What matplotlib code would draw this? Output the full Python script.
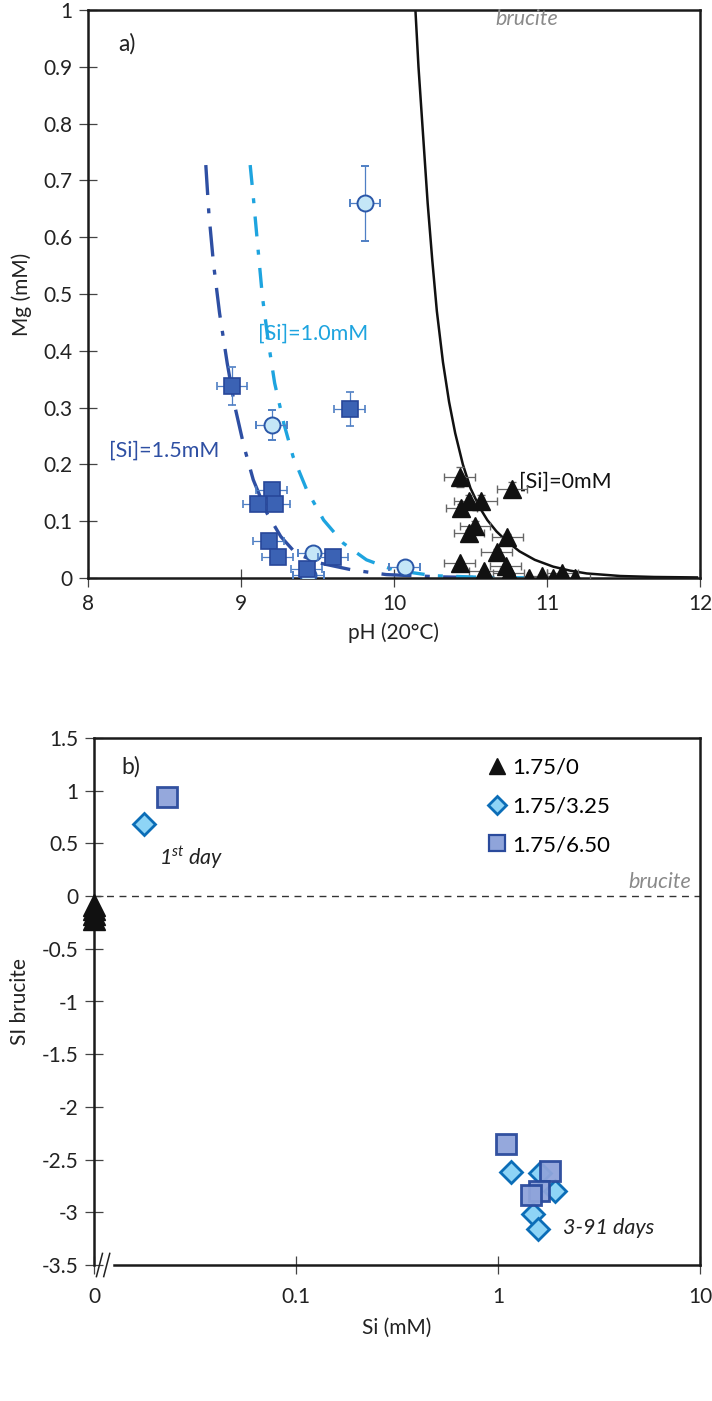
import numpy as np
import matplotlib
matplotlib.use("Agg")
import matplotlib.pyplot as plt
from matplotlib.lines import Line2D

plt.rcParams['font.family'] = ['Lato', 'DejaVu Sans']
plt.rcParams['mathtext.fontset'] = 'custom'
plt.rcParams['mathtext.it'] = 'Lato:italic'
plt.rcParams['mathtext.rm'] = 'Lato'

# ---------------- panel a: Mg vs pH ----------------
# [Si] = 0 mM experiments (triangles)
ph_si0 = [10.43, 10.77, 10.49, 10.57, 10.44, 10.53, 10.49, 10.74, 10.67, 10.43,
          10.59, 10.73, 10.75, 10.88, 10.97, 11.04, 11.10, 11.18]
mg_si0 = [0.178, 0.157, 0.136, 0.136, 0.123, 0.092, 0.079, 0.072, 0.046, 0.026,
          0.012, 0.021, 0.009, 0.000, 0.004, 0.000, 0.009, 0.000]
mg_si0_err = [0.018, 0.012, 0.010, 0.010, 0.008, 0.008, 0.006, 0.006, 0.005, 0.004,
              0.003, 0.003, 0.002, 0.002, 0.002, 0.002, 0.002, 0.002]

# [Si] = 1.0 mM experiments (circles)
ph_si10 = [9.81, 9.20, 9.47, 9.44, 10.07]
mg_si10 = [0.660, 0.269, 0.044, 0.005, 0.020]
mg_si10_err = [0.066, 0.026, 0.006, 0.003, 0.004]

# [Si] = 1.5 mM experiments (squares)
ph_si15 = [8.94, 9.71, 9.20, 9.11, 9.22, 9.18, 9.24, 9.43, 9.60]
mg_si15 = [0.338, 0.298, 0.155, 0.130, 0.130, 0.065, 0.037, 0.015, 0.037]
mg_si15_err = [0.033, 0.030, 0.012, 0.010, 0.010, 0.008, 0.006, 0.004, 0.006]

ph_err = 0.1

# brucite solubility curve, [Si]=0
ph_bru = [10.14, 10.16, 10.18, 10.20, 10.22, 10.25, 10.28, 10.32, 10.36, 10.40,
          10.45, 10.50, 10.56, 10.61, 10.67, 10.74, 10.82, 10.92, 11.04, 11.15,
          11.26, 11.48, 11.70, 11.98]
mg_bru = [1.00, 0.90, 0.82, 0.74, 0.66, 0.56, 0.47, 0.38, 0.31, 0.255,
          0.200, 0.158, 0.124, 0.102, 0.082, 0.064, 0.047, 0.032, 0.020, 0.013,
          0.008, 0.0035, 0.0018, 0.001]

# model curve [Si]=1.0 mM
ph_m10 = [9.06, 9.08, 9.11, 9.14, 9.18, 9.22, 9.28, 9.34, 9.43, 9.54, 9.67, 9.82,
          10.00, 10.26, 10.60, 11.00]
mg_m10 = [0.727, 0.672, 0.583, 0.495, 0.413, 0.343, 0.272, 0.214, 0.155, 0.102,
          0.061, 0.032, 0.014, 0.004, 0.001, 0.0]

# model curve [Si]=1.5 mM
ph_m15 = [8.77, 8.79, 8.82, 8.86, 8.91, 8.96, 9.02, 9.08, 9.17, 9.26, 9.36, 9.52,
          9.73, 9.95, 10.30, 10.74]
mg_m15 = [0.727, 0.642, 0.554, 0.466, 0.378, 0.302, 0.231, 0.173, 0.114, 0.073,
          0.043, 0.026, 0.014, 0.006, 0.002, 0.0]

# ---------------- panel b: SI brucite vs Si ----------------
si_t = [0.01, 0.01, 0.01, 0.01]          # no added Si, drawn on the axis break
sib_t = [-0.08, -0.12, -0.17, -0.22]

si_d = [0.0176, 1.16, 1.61, 1.91, 1.49, 1.58]
sib_d = [0.68, -2.62, -2.63, -2.80, -3.02, -3.155]

si_s = [0.0229, 1.10, 1.81, 1.60, 1.45]
sib_s = [0.94, -2.35, -2.61, -2.80, -2.84]

legend_labels = ['1.75/0', '1.75/3.25', '1.75/6.50']

DARK = '#2E4FA3'
SQ_FACE = '#3B62B4'
LIGHT = '#1EA4DF'
CIRC_FACE = '#C4E6F7'
GREY = '#8A8A8A'

fig = plt.figure(figsize=(7.12, 14.01), dpi=100)
W, H = 712.0, 1401.0
ax1 = fig.add_axes([88 / W, 1 - 578 / H, 612 / W, 568 / H])
ax2 = fig.add_axes([94 / W, 1 - 1265 / H, 606 / W, 527 / H])

for ax in (ax1, ax2):
    for sp in ax.spines.values():
        sp.set_linewidth(1.8)
        sp.set_color('#1a1a1a')
    ax.tick_params(direction='inout', length=13, width=0.9, color='#444444',
                   labelsize=15, pad=5, labelcolor='#222222')
ax2.tick_params(axis='x', pad=9)

# model curves
ax1.plot(ph_bru, mg_bru, color='#111111', lw=1.8, zorder=2)
ax1.plot(ph_m15, mg_m15, color=DARK, lw=2.4, dashes=(9, 4, 1.5, 4), zorder=2)
ax1.plot(ph_m10, mg_m10, color=LIGHT, lw=2.4, dashes=(6, 4, 1.5, 4), zorder=2)

# experiments
ax1.errorbar(ph_si10, mg_si10, xerr=ph_err, yerr=mg_si10_err, fmt='o', ms=11.5,
             mfc=CIRC_FACE, mec='#2B57A8', mew=1.4, ecolor='#4F7FC4', elinewidth=0.9,
             capsize=3, zorder=3)
ax1.errorbar(ph_si15, mg_si15, xerr=ph_err, yerr=mg_si15_err, fmt='s', ms=11.5,
             mfc=SQ_FACE, mec='#27479A', mew=1.2, ecolor='#4F7FC4', elinewidth=0.9,
             capsize=3, zorder=4)
ax1.errorbar(ph_si0, mg_si0, xerr=ph_err, yerr=mg_si0_err, fmt='^', ms=13,
             mfc='#111111', mec='#111111', ecolor='#666666', elinewidth=0.9,
             capsize=3, zorder=5)

ax1.set_xlim(8, 12)
ax1.set_ylim(0, 1)
ax1.set_xticks([8, 9, 10, 11, 12])
ax1.set_yticks(np.round(np.arange(0, 1.01, 0.1), 1))
ax1.set_yticklabels(['0', '0.1', '0.2', '0.3', '0.4', '0.5', '0.6', '0.7', '0.8', '0.9', '1'])
ax1.set_xlabel('pH (20°C)', fontsize=15, labelpad=6, color='#222222')
ax1.set_ylabel('Mg (mM)', fontsize=15, labelpad=8, color='#222222')

ax1.text(0.05, 0.94, 'a)', transform=ax1.transAxes, fontsize=16.5, color='#222222',
         va='center')
ax1.text(10.87, 0.985, 'brucite', fontsize=15.5, style='italic', color=GREY,
         ha='center', va='center')
ax1.text(10.82, 0.17, '[Si]=0mM', fontsize=15.5, color='#111111', va='center')
ax1.text(9.11, 0.43, '[Si]=1.0mM', fontsize=15.5, color=LIGHT, va='center')
ax1.text(8.14, 0.225, '[Si]=1.5mM', fontsize=15.5, color=DARK, va='center')

# panel b
ax2.set_xscale('log')
ax2.axhline(0, color='#333333', lw=1.0, dashes=(5, 4), zorder=1)
ax2.plot(si_t, sib_t, '^', ms=16, mfc='#111111', mec='#111111', clip_on=False, zorder=5)
ax2.plot(si_d, sib_d, 'D', ms=11.5, mfc='#8ED4F6', mec='#0B6DB7', mew=2.0, zorder=3)
ax2.plot(si_s, sib_s, 's', ms=14, mfc='#8FA4DA', mec='#2A4A9C', mew=2.0, alpha=0.95, zorder=4)

ax2.set_xlim(0.01, 10)
ax2.set_ylim(-3.5, 1.5)
ax2.set_xticks([0.01, 0.1, 1, 10])
ax2.set_xticklabels(['0', '0.1', '1', '10'])
ax2.xaxis.set_minor_locator(matplotlib.ticker.NullLocator())
yt = np.arange(-3.5, 1.51, 0.5)
ax2.set_yticks(yt)
ax2.set_yticklabels(['%g' % v for v in yt])
ax2.set_xlabel('Si (mM)', fontsize=15, labelpad=8, color='#222222')
ax2.set_ylabel('SI brucite', fontsize=15, labelpad=8, color='#222222')
ax2.spines['bottom'].set_bounds(0.0125, 10)

# axis break marks
for dx in (0.004, 0.016):
    ax2.add_line(Line2D([dx, dx + 0.010], [-0.022, 0.022], transform=ax2.transAxes,
                        color='#222222', lw=1.1, clip_on=False))

ax2.text(0.045, 0.945, 'b)', transform=ax2.transAxes, fontsize=16.5, color='#222222',
         va='center')
ax2.text(0.021, 0.36, r'1$^{st}$ day', fontsize=15.5, style='italic', color='#222222',
         va='center')
ax2.text(2.09, -3.15, '3-91 days', fontsize=15.5, style='italic', color='#222222',
         va='center')
ax2.text(0.985, 0.04, 'brucite', transform=ax2.get_yaxis_transform(), fontsize=15.5,
         style='italic', color=GREY, ha='right', va='bottom')

handles = [
    Line2D([], [], ls='none', marker='^', ms=12, mfc='#111111', mec='#111111'),
    Line2D([], [], ls='none', marker='D', ms=9, mfc='#8ED4F6', mec='#0B6DB7', mew=2.0),
    Line2D([], [], ls='none', marker='s', ms=11, mfc='#8FA4DA', mec='#2A4A9C', mew=1.6),
]
ax2.legend(handles, legend_labels, loc='upper left', bbox_to_anchor=(0.635, 0.98),
           frameon=False, fontsize=16, handlelength=0.8, handletextpad=0.3,
           labelspacing=0.85, borderaxespad=0)

fig.savefig('out.png', dpi=100)
